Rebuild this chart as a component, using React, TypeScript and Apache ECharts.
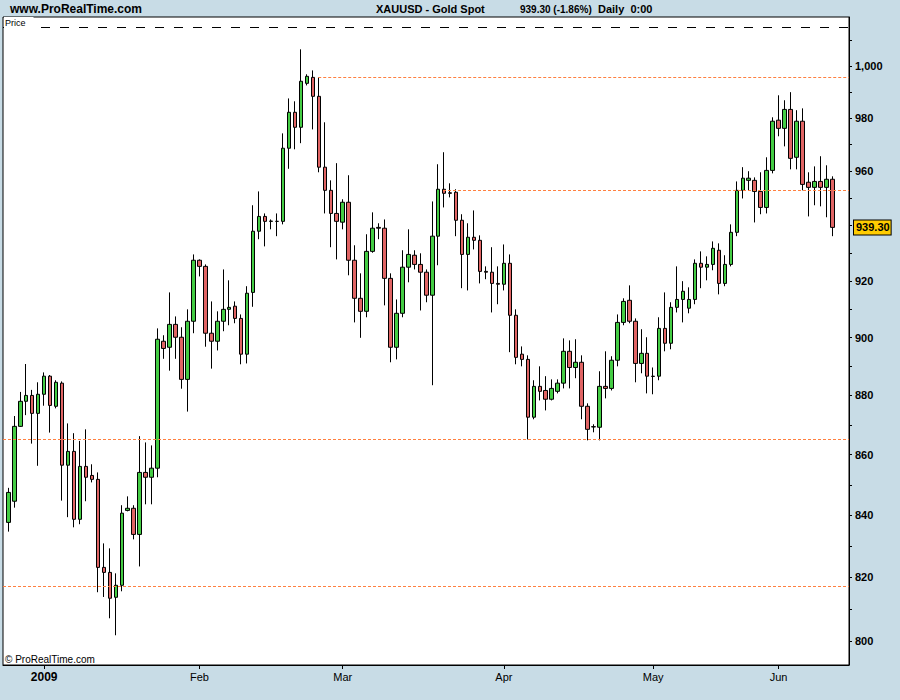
import React, { useEffect, useRef } from "react";
import * as echarts from "echarts";

// ---- data ----
const months = ["Dec", "Jan", "Feb", "Mar", "Apr", "May", "Jun"];
const yearLabel = "2009";
const sessionsPerMonth = [6, 26, 24, 27, 25, 21, 10];

const opens = [
  837.7, 844.6, 869.5, 878.0, 880.0, 873.9, 880.4, 886.6, 876.3, 884.2,
  856.5, 861.1, 838.7, 856.1, 853.1, 851.8, 823.2, 821.6, 813.7, 817.5,
  841.6, 842.3, 833.8, 854.1, 852.5, 855.5, 898.7, 896.6, 904.6, 900.1,
  885.5, 905.7, 927.4, 925.2, 901.5, 898.7, 905.7, 909.9, 911.0, 906.7,
  894.2, 915.9, 937.9, 943.3, 941.5, 941.5, 941.5, 968.6, 982.2, 976.5,
  993.3, 995.6, 988.3, 961.5, 952.9, 944.4, 941.2, 948.5, 927.4, 913.8,
  909.2, 930.6, 939.3, 939.0, 920.9, 896.6, 908.5, 924.9, 929.2, 925.9,
  923.1, 914.9, 936.1, 953.3, 952.0, 952.2, 941.9, 929.5, 935.7, 934.6,
  923.4, 923.1, 919.1, 918.8, 926.3, 907.8, 894.2, 892.4, 872.6, 883.1,
  881.7, 878.7, 881.4, 884.2, 895.2, 889.6, 891.4, 876.3, 869.4, 869.2,
  883.1, 882.4, 892.1, 905.3, 913.1, 905.7, 891.0, 894.5, 886.6, 886.6,
  903.2, 898.0, 910.6, 913.4, 910.3, 913.4, 926.3, 924.9, 925.9, 931.0,
  919.1, 925.9, 937.5, 952.9, 956.6, 956.6, 952.5, 946.6, 960.3, 979.2,
  976.1, 983.3, 965.2, 978.8, 955.9, 954.0, 956.2, 954.0, 957.0,
];
const highs = [
  849.0, 873.0, 881.2, 890.8, 881.9, 884.5, 887.9, 887.0, 885.2, 884.8,
  870.5, 867.2, 864.6, 868.5, 856.8, 854.1, 830.9, 829.3, 821.3, 843.3,
  846.2, 843.3, 866.2, 864.1, 863.1, 903.2, 900.8, 915.9, 907.4, 903.6,
  909.9, 929.5, 927.7, 925.9, 912.7, 909.2, 924.1, 920.2, 912.7, 908.1,
  918.1, 947.4, 952.5, 944.4, 942.2, 944.4, 974.2, 987.5, 986.4, 1006.5,
  996.8, 998.3, 995.6, 978.4, 956.6, 963.0, 949.6, 958.5, 932.8, 922.7,
  936.8, 944.8, 940.8, 942.2, 922.7, 913.4, 931.0, 938.6, 931.0, 929.9,
  924.1, 948.8, 962.6, 967.1, 955.5, 953.3, 944.1, 940.8, 945.5, 936.4,
  925.2, 932.1, 925.2, 933.1, 929.5, 909.9, 896.9, 893.8, 885.2, 890.0,
  886.6, 885.5, 885.5, 899.7, 899.0, 899.4, 893.8, 877.3, 870.2, 888.3,
  895.2, 893.5, 908.1, 913.8, 918.4, 906.7, 902.9, 900.1, 889.6, 907.1,
  915.9, 912.4, 925.2, 919.9, 917.7, 927.7, 930.6, 928.8, 934.2, 933.5,
  929.2, 940.4, 956.2, 961.5, 960.0, 957.7, 959.6, 965.2, 980.3, 988.7,
  986.8, 989.9, 983.0, 983.7, 959.6, 961.8, 965.6, 962.2, 958.1,
];
const lows = [
  834.7, 842.5, 869.3, 873.3, 863.7, 856.3, 876.5, 867.4, 875.6, 844.8,
  839.4, 836.1, 837.1, 844.6, 850.8, 815.3, 813.8, 807.1, 801.8, 815.6,
  841.3, 832.2, 823.5, 843.6, 843.6, 852.5, 892.6, 888.5, 892.6, 882.3,
  874.5, 901.5, 921.6, 896.8, 889.2, 895.5, 902.2, 904.3, 905.0, 890.7,
  891.0, 910.8, 935.0, 932.4, 938.6, 936.1, 940.4, 960.9, 968.2, 970.5,
  992.5, 975.7, 959.6, 944.4, 932.1, 927.7, 938.6, 922.0, 905.3, 899.9,
  907.1, 930.1, 935.0, 911.3, 891.4, 892.4, 907.1, 919.5, 924.1, 909.5,
  912.4, 883.5, 925.6, 946.6, 950.3, 936.1, 917.4, 916.6, 931.3, 919.1,
  920.6, 908.8, 911.7, 916.6, 894.9, 890.7, 890.0, 865.1, 871.9, 878.3,
  874.9, 878.3, 880.7, 882.4, 882.4, 885.9, 871.9, 864.8, 867.5, 864.8,
  879.0, 881.7, 890.0, 904.3, 905.0, 884.5, 887.6, 880.7, 880.4, 885.2,
  895.2, 895.9, 908.8, 905.3, 908.5, 911.7, 917.4, 920.2, 923.8, 915.2,
  918.1, 925.2, 936.1, 949.9, 952.9, 941.1, 944.1, 944.4, 959.2, 973.1,
  969.3, 960.7, 960.7, 952.9, 943.3, 947.4, 947.0, 943.0, 936.1,
];
const closes = [
  847.5, 869.5, 878.0, 880.0, 873.9, 880.4, 886.6, 876.6, 884.5, 856.5,
  861.1, 838.7, 856.1, 852.5, 851.8, 823.2, 821.6, 813.4, 817.5, 840.7,
  842.3, 833.8, 854.1, 852.5, 855.5, 899.4, 896.2, 904.6, 900.1, 885.5,
  905.7, 927.4, 925.2, 901.5, 898.7, 905.7, 909.9, 910.6, 906.7, 894.2,
  915.6, 937.9, 943.3, 941.5, 941.6, 941.5, 968.6, 982.2, 976.5, 994.1,
  996.0, 988.3, 961.5, 952.9, 944.4, 941.5, 948.5, 927.4, 913.8, 909.2,
  930.6, 939.0, 939.0, 920.9, 896.6, 908.5, 924.9, 929.5, 925.9, 923.1,
  914.9, 936.1, 953.3, 951.8, 951.8, 941.9, 929.5, 935.7, 934.6, 923.4,
  923.1, 919.1, 918.8, 926.3, 907.8, 893.1, 892.4, 872.6, 883.1, 881.4,
  878.7, 882.4, 884.2, 895.2, 889.6, 891.4, 876.3, 868.5, 869.3, 883.1,
  882.4, 892.1, 905.3, 912.7, 905.7, 891.0, 894.5, 886.6, 886.5, 903.2,
  898.0, 910.6, 913.4, 916.3, 913.4, 926.3, 924.9, 925.9, 931.7, 919.1,
  925.9, 937.5, 952.9, 957.4, 957.4, 952.5, 946.6, 960.3, 978.8, 976.1,
  983.3, 964.8, 978.8, 955.1, 954.0, 956.2, 954.0, 957.0, 939.3,
];

// 940 is covered by the last-price box in the reference, so it has no label
const priceTicks = [800, 820, 840, 860, 880, 900, 920, 960, 980, 1000];
const minorPriceTicks = [
  800, 810, 820, 830, 840, 850, 860, 870, 880, 890, 900,
  910, 920, 930, 940, 950, 960, 970, 980, 990, 1000, 1010,
];
const panelLinePrice = 1015;
const levelPrices = [995.5, 952.9, 865.0, 817.2];
const levelStartIndex = [51.9, 72.8, null, null];
const priceRange = [792.6, 1019.2];
const indexRange = [-0.89, 140.79];

const lastPrice = 939.3;
const changePct = -1.86;
const instrument = "XAUUSD - Gold Spot";
const period = "Daily  0:00";
const site = "www.ProRealTime.com";

const FONT = "'Liberation Sans', Arial, Helvetica, sans-serif";
const BG = "#c8dce6";
const ORANGE = "#ff8040";

export default function App() {
  const ref = useRef<HTMLDivElement>(null);

  useEffect(() => {
    if (!ref.current) return;
    const chart = echarts.init(ref.current, null, { renderer: "svg" });
    const ln = Math.log;

    const monthStarts: number[] = [];
    let acc = 0;
    sessionsPerMonth.forEach((n) => {
      monthStarts.push(acc);
      acc += n;
    });
    const labelStarts = monthStarts.slice(1);

    const candles = closes.map((c, i) => [
      i,
      ln(opens[i]),
      ln(c),
      ln(lows[i]),
      ln(highs[i]),
    ]);

    const orangeStyle = { color: ORANGE, width: 1, type: [3, 2] as any };
    const segment = (from: number, p: number, style: any, extra: any = {}) => [
      { coord: [from, ln(p)], lineStyle: style, ...extra },
      { coord: [indexRange[1], ln(p)] },
    ];
    const markData: any[] = [
      segment(indexRange[0], panelLinePrice, { color: "#000", width: 1, type: [9, 10] }),
    ];
    levelPrices.forEach((p, k) => {
      const s = levelStartIndex[k];
      markData.push(segment(s == null ? indexRange[0] : s, p, orangeStyle));
    });
    markData.push(
      segment(indexRange[0], lastPrice, { width: 0, color: "rgba(0,0,0,0)" }, {
        label: {
          show: true,
          position: "end",
          distance: 5,
          formatter: lastPrice.toFixed(2),
          color: "#000",
          fontWeight: "bold",
          fontSize: 11,
          fontFamily: FONT,
          backgroundColor: "#ffcc00",
          borderColor: "#000",
          borderWidth: 1,
          padding: [2, 1, 1, 2],
        },
      })
    );

    const option: any = {
      animation: false,
      backgroundColor: BG,
      grid: {
        left: 3,
        top: 17,
        right: 51,
        bottom: 35,
        show: true,
        backgroundColor: "#fff",
        borderColor: "#000",
        borderWidth: 1,
        outerBoundsMode: "none",
      },
      xAxis: {
        type: "value",
        min: indexRange[0],
        max: indexRange[1],
        splitLine: { show: false },
        axisLine: { show: true, onZero: false, lineStyle: { color: "#000", width: 1 } },
        axisTick: {
          show: true,
          customValues: labelStarts,
          length: 4,
          lineStyle: { color: "#000" },
        },
        axisLabel: {
          customValues: labelStarts,
          margin: 6,
          color: "#000",
          fontSize: 11,
          fontFamily: FONT,
          formatter: (v: number) => {
            const k = monthStarts.indexOf(Math.round(v));
            const name = months[k];
            return name === "Jan" ? `{y|${yearLabel}}` : name;
          },
          rich: {
            y: { fontWeight: "bold", fontSize: 12, color: "#000", fontFamily: FONT },
          },
        },
      },
      yAxis: {
        type: "value",
        position: "right",
        min: ln(priceRange[0]),
        max: ln(priceRange[1]),
        splitLine: { show: false },
        axisLine: { show: true, onZero: false, lineStyle: { color: "#000", width: 1 } },
        axisTick: {
          show: true,
          customValues: minorPriceTicks.map((p) => ln(p)),
          length: 3,
          lineStyle: { color: "#000" },
        },
        axisLabel: {
          customValues: priceTicks.map((p) => ln(p)),
          margin: 6,
          color: "#000",
          fontWeight: "bold",
          fontSize: 11,
          fontFamily: FONT,
          formatter: (v: number) => {
            const p = Math.round(Math.exp(v));
            return p >= 1000 ? `${Math.floor(p / 1000)},${String(p % 1000).padStart(3, "0")}` : String(p);
          },
        },
      },
      series: [
        {
          type: "candlestick",
          data: candles,
          barWidth: 4,
          itemStyle: {
            color: "#44cc44",
            color0: "#e06464",
            borderColor: "#000",
            borderColor0: "#000",
            borderColorDoji: "#000",
            borderWidth: 1,
          },
          markLine: {
            silent: true,
            symbol: "none",
            precision: 10,
            animation: false,
            label: { show: false },
            data: markData,
          },
        },
      ],
      graphic: [
        {
          type: "text",
          x: 10,
          y: 9,
          z: 100,
          style: {
            text: site,
            fill: "#000",
            fontSize: 12,
            fontWeight: "bold",
            fontFamily: FONT,
            verticalAlign: "middle",
          },
        },
        {
          type: "text",
          x: 376,
          y: 9,
          z: 100,
          style: {
            text: instrument,
            fill: "#000",
            fontSize: 11,
            fontWeight: "bold",
            fontFamily: FONT,
            verticalAlign: "middle",
          },
        },
        {
          type: "text",
          x: 520,
          y: 9,
          z: 100,
          style: {
            text: `${lastPrice.toFixed(2)} (${changePct.toFixed(2)}%)`,
            fill: "#000",
            fontSize: 10,
            fontWeight: "bold",
            fontFamily: FONT,
            verticalAlign: "middle",
          },
        },
        {
          type: "text",
          x: 598,
          y: 9,
          z: 100,
          style: {
            text: period,
            fill: "#000",
            fontSize: 11,
            fontWeight: "bold",
            fontFamily: FONT,
            verticalAlign: "middle",
          },
        },
        {
          type: "text",
          x: 4,
          y: 23,
          z: 100,
          style: {
            text: "Price",
            fill: "#000",
            fontSize: 9,
            fontFamily: FONT,
            verticalAlign: "middle",
            backgroundColor: "#fff",
            padding: [1, 8, 2, 1],
          },
        },
        {
          type: "text",
          x: 5,
          y: 659,
          z: 100,
          style: {
            text: "\u00a9 ProRealTime.com",
            fill: "#000",
            fontSize: 10,
            fontFamily: FONT,
            verticalAlign: "middle",
          },
        },
      ],
    };

    chart.setOption(option);
    return () => chart.dispose();
  }, []);

  return (
    <div
      ref={ref}
      style={{
        position: "absolute",
        left: 0,
        top: 0,
        width: 900,
        height: 700,
        background: BG,
      }}
    />
  );
}
